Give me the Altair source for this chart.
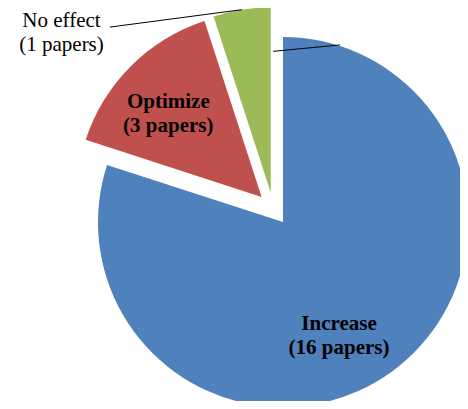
import altair as alt
import pandas as pd

# ---- data ----
categories = ["Increase", "Optimize", "No effect"]
papers = [16, 3, 1]
labels = ["Increase\n(16 papers)", "Optimize\n(3 papers)", "No effect\n(1 papers)"]
label_inside = [True, True, False]
colors = ["#4F81BD", "#C0504D", "#9BBB59"]

# ---- layout (pixels / degrees, polar offsets from each slice's vertex) ----
W, H = 452, 393
CX, CY = 265.3, 200.7
R = 185
EXPLODE = 16.5
label_r = [127, 125, 263]
label_a = [153.8, 311.7, 307.3]
lead_r0 = [171, None, 230.6]
lead_a0 = [356.7, None, 315.8]
lead_r1 = [186, None, 185]
lead_a1 = [17.8, None, 351]

df = pd.DataFrame({
    "order": list(range(len(categories))),
    "category": categories,
    "papers": papers,
    "label": labels,
    "inside": label_inside,
    "label_r": label_r,
    "label_a": label_a,
    "lead_r0": lead_r0,
    "lead_a0": lead_a0,
    "lead_r1": lead_r1,
    "lead_a1": lead_a1,
})

D = "PI/180"
base = (
    alt.Chart(df)
    .transform_joinaggregate(total="sum(papers)")
    .transform_window(cum="sum(papers)", sort=[alt.SortField("order")], frame=[None, 0])
    .transform_calculate(
        t0="2*PI*(datum.cum - datum.papers)/datum.total",
        t1="2*PI*datum.cum/datum.total",
    )
    .transform_calculate(mid="(datum.t0 + datum.t1)/2")
    .transform_calculate(
        vx=f"{CX} + {EXPLODE}*sin(datum.mid)",
        vy=f"{CY} - {EXPLODE}*cos(datum.mid)",
    )
    .transform_calculate(
        lx=f"datum.vx + datum.label_r*sin(datum.label_a*{D})",
        ly=f"datum.vy - datum.label_r*cos(datum.label_a*{D})",
        ax0=f"datum.vx + datum.lead_r0*sin(datum.lead_a0*{D})",
        ay0=f"datum.vy - datum.lead_r0*cos(datum.lead_a0*{D})",
        ax1=f"datum.vx + datum.lead_r1*sin(datum.lead_a1*{D})",
        ay1=f"datum.vy - datum.lead_r1*cos(datum.lead_a1*{D})",
    )
)

arcs = base.mark_arc(radius=R).encode(
    x=alt.X("vx:Q", scale=None, axis=None),
    y=alt.Y("vy:Q", scale=None, axis=None),
    theta=alt.Theta("t0:Q", scale=None, stack=None),
    theta2="t1:Q",
    color=alt.Color("category:N", scale=alt.Scale(domain=categories, range=colors), legend=None),
)

rules = base.transform_filter("isValid(datum.lead_r0)").mark_rule(color="black", strokeWidth=1).encode(
    x=alt.X("ax0:Q", scale=None, axis=None),
    y=alt.Y("ay0:Q", scale=None, axis=None),
    x2="ax1:Q",
    y2="ay1:Q",
)

text_enc = dict(
    x=alt.X("lx:Q", scale=None, axis=None),
    y=alt.Y("ly:Q", scale=None, axis=None),
    text="label:N",
)
text_props = dict(
    font="Liberation Serif", fontSize=21, lineBreak="\n", lineHeight=24,
    align="center", baseline="middle", color="black", dy=-12,
)
text_in = base.transform_filter("datum.inside").mark_text(fontWeight="bold", **text_props).encode(**text_enc)
text_out = base.transform_filter("!datum.inside").mark_text(fontWeight="normal", **text_props).encode(**text_enc)

chart = (
    alt.layer(arcs, rules, text_in, text_out)
    .properties(width=W, height=H, autosize=alt.AutoSizeParams(type="none"), padding=0, background="white")
    .configure_view(strokeWidth=0)
)

chart.save("out.html", embed_options={"renderer": "svg", "actions": False})
